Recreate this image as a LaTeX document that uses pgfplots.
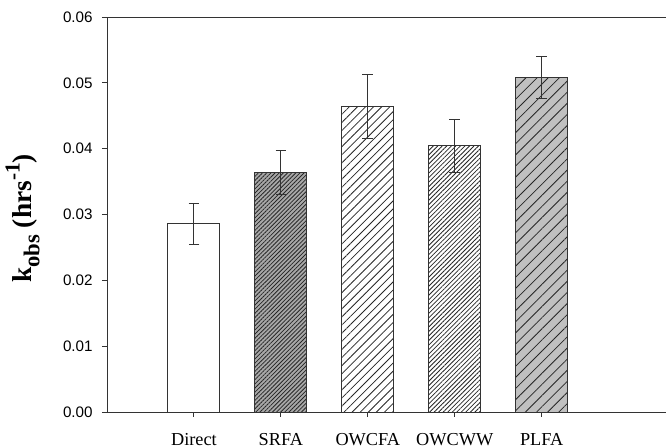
\documentclass[border=0pt]{standalone}
\usepackage{pgfplots}
\pgfplotsset{compat=1.18}
\usepackage{fontspec}
\setmainfont{Liberation Serif}
\newfontfamily\sansf{Liberation Sans}
\usetikzlibrary{patterns.meta}
\definecolor{edge}{HTML}{333333}
\definecolor{darkfill}{HTML}{A8A8A8}
\definecolor{lightfill}{HTML}{C0C0C0}
\begin{document}
\begin{tikzpicture}
\path[use as bounding box] (-80.25pt,-27pt) rectangle (419.25pt,309pt);
\begin{axis}[
  at={(0,0)}, anchor=south west,
  scale only axis, width=419.25pt, height=296.25pt,
  axis x line*=bottom, axis y line*=left,
  axis line style={edge, line width=0.7pt},
  xmin=-1, xmax=5.43, ymin=0, ymax=0.06,
  xtick={0,1,2,3,4},
  xticklabels={Direct,SRFA,OWCFA,OWCWW,PLFA},
  ytick={0,0.01,0.02,0.03,0.04,0.05,0.06},
  scaled y ticks=false,
  /pgf/number format/assume math mode=true,
  yticklabel style={/pgf/number format/fixed, /pgf/number format/fixed zerofill, /pgf/number format/precision=2, font=\sansf\fontsize{11.4}{13}\selectfont, xshift=-3.5pt},
  xticklabel style={font=\fontsize{13.7}{15}\selectfont, yshift=-9pt},
  tick align=outside, major tick length=3.75pt,
  tick style={edge, line width=0.7pt},
  xtick pos=bottom, ytick pos=left,
  ylabel={\bfseries k\raisebox{-0.28em}{\fontsize{17}{18}\selectfont obs} (hrs\raisebox{0.45em}{\fontsize{16}{17}\selectfont -1})},
  ylabel style={font=\fontsize{20.5}{22}\selectfont, at={(axis description cs:-0.112,0.49)}, anchor=south},
  ybar, bar width=39pt,
  clip=false,
  every axis plot/.append style={draw=edge, line width=0.7pt, bar shift=0pt},
  error bars/error bar style={edge, line width=0.7pt},
  error bars/error mark options={edge, rotate=90, mark size=4pt, line width=0.7pt},
]
\addplot[fill=white, error bars/.cd, y dir=both, y explicit]
  coordinates {(0,0.0286) += (0,0.0030) -= (0,0.0031)};
\addplot[fill=darkfill, postaction={pattern={Lines[angle=45,distance=2.2pt,line width=0.6pt]}, pattern color=black!85}, error bars/.cd, y dir=both, y explicit]
  coordinates {(1,0.0364) += (0,0.0033) -= (0,0.0033)};
\addplot[fill=white, postaction={pattern={Lines[angle=45,distance=4.3pt,line width=0.6pt]}, pattern color=black!85}, error bars/.cd, y dir=both, y explicit]
  coordinates {(2,0.0464) += (0,0.0048) -= (0,0.0049)};
\addplot[fill=white, postaction={pattern={Lines[angle=45,distance=2.4pt,line width=0.6pt]}, pattern color=black!85}, error bars/.cd, y dir=both, y explicit]
  coordinates {(3,0.0405) += (0,0.0040) -= (0,0.0041)};
\addplot[fill=lightfill, postaction={pattern={Lines[angle=45,distance=5.9pt,line width=0.6pt]}, pattern color=black!85}, error bars/.cd, y dir=both, y explicit]
  coordinates {(4,0.0508) += (0,0.0032) -= (0,0.0031)};
\draw[edge, line width=0.7pt] (rel axis cs:0,1) -- (rel axis cs:1,1);
\end{axis}
\end{tikzpicture}
\end{document}
